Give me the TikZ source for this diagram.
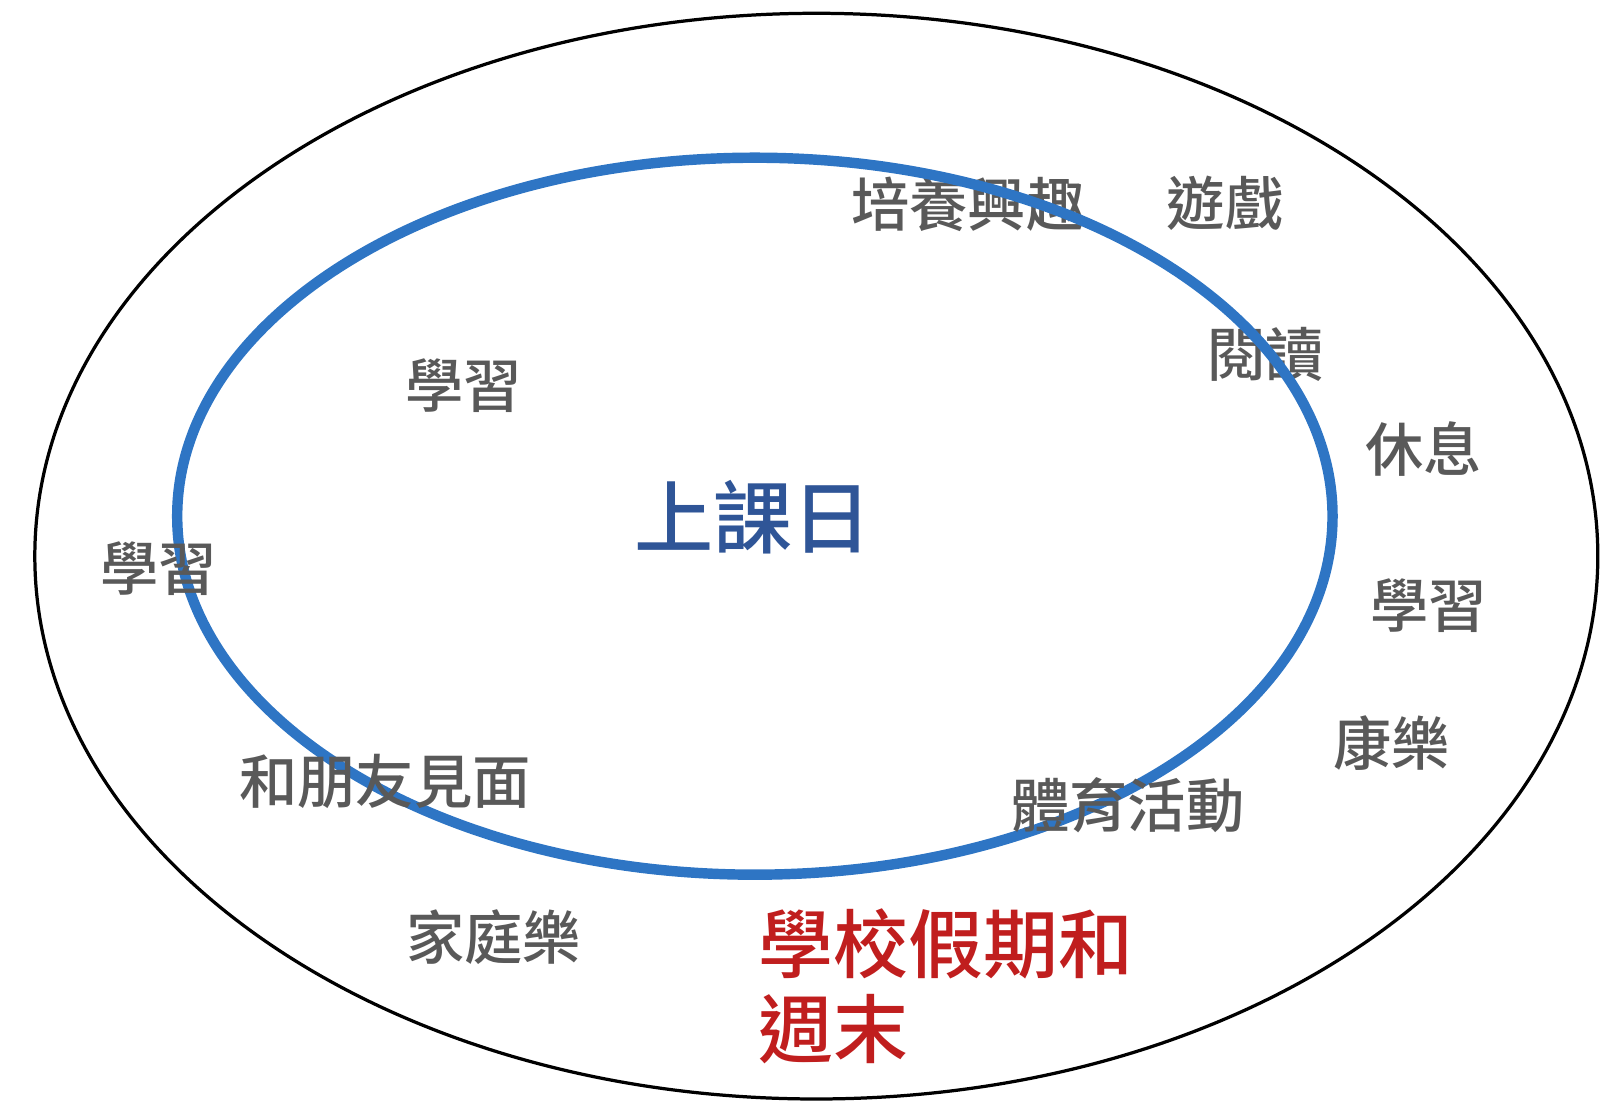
\documentclass[tikz,border=0pt]{standalone}
\usepackage{fontspec}
\setmainfont{Noto Sans CJK TC}[UprightFont={* Medium}]
\definecolor{wordgray}{RGB}{89,89,89}
\definecolor{ringblue}{RGB}{46,117,196}
\definecolor{dayblue}{RGB}{47,85,151}
\definecolor{holred}{RGB}{192,30,30}
\tikzset{
  word/.style={text=wordgray,inner sep=0pt,font=\fontsize{16.2pt}{18pt}\selectfont},
}
\begin{document}
\begin{tikzpicture}

\useasboundingbox (0,0) rectangle (15.68,10.75);

\draw[line width=0.9pt] (7.97,5.32) ellipse [x radius=7.63, y radius=5.30];

\node at (9.45,8.75) [word] (interest) {培養興趣};
\node at (12.36,7.29) [word] (read) {閱讀};

\draw[ringblue,line width=2.9pt] (7.37,5.71) ellipse [x radius=5.64, y radius=3.50];

\node at (7.35,5.70) [inner sep=0pt,text=dayblue,font=\fontsize{22pt}{24pt}\selectfont] (school) {上課日};

\node at (11.96,8.77) [word] (play) {遊戲};
\node at (4.53,6.98) [word] (studyin) {學習};
\node at (13.90,6.37) [word] (rest) {休息};
\node at (1.55,5.20) [word] (studyleft) {學習};
\node at (13.95,4.84) [word] (studyright) {學習};
\node at (13.59,3.49) [word] (fun) {康樂};
\node at (3.76,3.12) [word] (friends) {和朋友見面};
\node at (11.01,2.89) [word] (sport) {體育活動};
\node at (4.82,1.60) [word] (family) {家庭樂};

\node at (7.40,1.12) [anchor=west,align=left,inner sep=0pt,text=holred,font=\fontsize{20.8pt}{23.6pt}\selectfont] (holiday) {學校假期和\\週末};

\end{tikzpicture}
\end{document}
